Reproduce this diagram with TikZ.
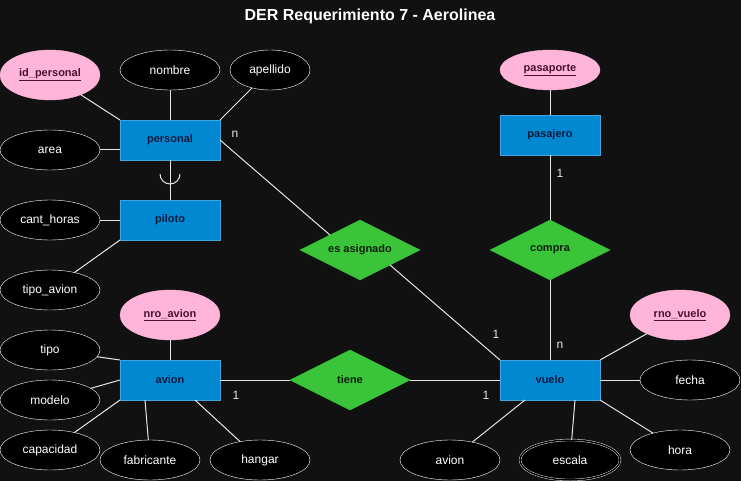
\documentclass[tikz,border=0pt]{standalone}
\usepackage{fontspec}
\setmainfont{Liberation Sans}
\usetikzlibrary{shapes.geometric,positioning,calc}

\definecolor{bgcol}{HTML}{111111}
\definecolor{entfill}{HTML}{0288D1}
\definecolor{entline}{HTML}{42A5E0}
\definecolor{enttext}{HTML}{0D1B3E}
\definecolor{relfill}{HTML}{3AC43A}
\definecolor{reltext}{HTML}{0A200A}
\definecolor{keyfill}{HTML}{FFB5DA}
\definecolor{keytext}{HTML}{4A1030}
\definecolor{linecol}{HTML}{E6E6E6}

\begin{document}
\begin{tikzpicture}[x=1pt, y=-1pt,
  entity/.style={draw=entline, fill=entfill, minimum width=100pt, minimum height=40pt, inner sep=0pt, outer sep=0pt, text=enttext, font=\fontsize{11}{13}\selectfont\bfseries},
  relation/.style={diamond, aspect=2, draw=relfill, fill=relfill, minimum width=120pt, minimum height=60pt, inner sep=0pt, outer sep=0pt, text=reltext, font=\fontsize{11}{13}\selectfont\bfseries},
  attr/.style={ellipse, draw=white, fill=black, minimum width=100pt, minimum height=40pt, inner sep=0pt, outer sep=0pt, text=white, font=\fontsize{12}{14}\selectfont},
  keyattr/.style={attr, draw=keyfill, fill=keyfill, minimum height=50pt, text=keytext, font=\fontsize{11}{13}\selectfont\bfseries},
  multiattr/.style={attr, double=black, double distance=1.5pt},
  conn/.style={draw=linecol, line width=1pt},
  card/.style={text=linecol, font=\fontsize{12}{14}\selectfont, inner sep=0pt}
]
\useasboundingbox[fill=bgcol] (0,0) rectangle (741,481);
\node[text=white, font=\fontsize{16}{19}\selectfont\bfseries] (title) at (370,16) {DER Requerimiento 7 - Aerolinea};

% entidades y relaciones
\node[entity] (personal) at (170,140) {personal};
\node[entity, below=40pt of personal] (piloto) {piloto};
\node[entity, below=120pt of piloto] (avion) {avion};
\node[relation, right=70pt of avion] (tiene) {tiene};
\node[entity, right=90pt of tiene] (vuelo) {vuelo};
\node[relation, above=80pt of vuelo] (compra) {compra};
\node[entity, above=65pt of compra] (pasajero) {pasajero};
\node[relation] (asig) at (360,250) {es asignado};

% atributos
\node[keyattr] (idp) at (50,75) {\underline{id\_personal}};
\node[attr, above=30pt of personal] (nombre) {nombre};
\node[attr, minimum width=80pt] (apellido) at (270,70) {apellido};
\node[attr] (area) at (50,150) {area};
\node[attr, left=20pt of piloto] (cant) {cant\_horas};
\node[attr] (tipoav) at (50,290) {tipo\_avion};
\node[keyattr, minimum height=40pt, above=25pt of pasajero] (pasaporte) {\underline{pasaporte}};
\node[keyattr, above=20pt of avion] (nroav) {\underline{nro\_avion}};
\node[attr] (tipo) at (50,350) {tipo};
\node[attr] (modelo) at (50,400) {modelo};
\node[attr] (capac) at (50,450) {capacidad};
\node[attr] (fabric) at (150,460) {fabricante};
\node[attr] (hangar) at (260,460) {hangar};
\node[keyattr] (rno) at (680,315) {\underline{rno\_vuelo}};
\node[attr, right=40pt of vuelo] (fecha) {fecha};
\node[attr] (hora) at (680,450) {hora};
\node[multiattr] (escala) at (570,460) {escala};
\node[attr] (avattr) at (450,460) {avion};

% conectores
\draw[conn] (idp) -- (personal.north west);
\draw[conn] (nombre) -- (personal);
\draw[conn] (apellido) -- (personal.north east);
\draw[conn] (area) -- (area -| personal.west);
\draw[conn] (personal) -- (piloto);
\coordinate (isa) at ($(personal.south)!0.35!(piloto.north)$);
\draw[conn] ([xshift=-10pt]isa) arc[start angle=180, end angle=360, radius=10pt];
\draw[conn] (cant) -- (piloto);
\draw[conn] (tipoav) -- (piloto.south west);
\draw[conn] (personal.east) -- ($(asig.west)!0.5!(asig.north)$);
\draw[conn] ($(asig.east)!0.5!(asig.south)$) -- (vuelo.north west);
\draw[conn] (pasaporte) -- (pasajero);
\draw[conn] (pasajero) -- (compra);
\draw[conn] (compra) -- (vuelo);
\draw[conn] (nroav) -- (avion);
\draw[conn] (avion) -- (tiene);
\draw[conn] (tiene) -- (vuelo);
\draw[conn] (tipo) -- (avion.north west);
\draw[conn] (modelo) -- (avion.west);
\draw[conn] (capac) -- (avion.south west);
\draw[conn] (fabric) -- ($(avion.south west)!0.25!(avion.south east)$);
\draw[conn] (hangar) -- ($(avion.south west)!0.75!(avion.south east)$);
\draw[conn] (rno) -- (vuelo.north east);
\draw[conn] (fecha) -- (vuelo);
\draw[conn] (hora) -- (vuelo.south east);
\draw[conn] (escala) -- ($(vuelo.south west)!0.75!(vuelo.south east)$);
\draw[conn] (avattr) -- ($(vuelo.south west)!0.25!(vuelo.south east)$);

% cardinalidades
\node[card] (c1) at (235,134) {n};
\node[card] (c2) at (496,334) {1};
\node[card] (c3) at (560,345) {n};
\node[card] (c4) at (486,395) {1};
\node[card] (c5) at (236,395) {1};
\node[card] (c6) at (560,173) {1};
\end{tikzpicture}
\end{document}
